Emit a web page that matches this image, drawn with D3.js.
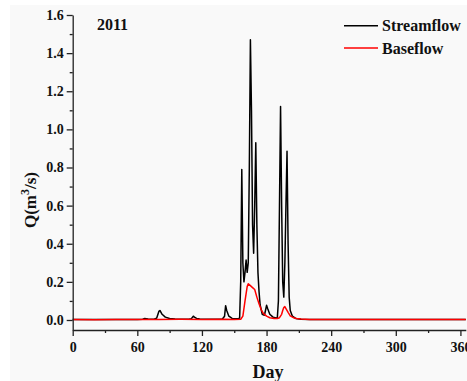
<!DOCTYPE html>
<html><head><meta charset="utf-8">
<script src="https://cdn.jsdelivr.net/npm/d3@7"></script>
<style>body{margin:0;background:#fff}svg{display:block}
text{font-family:'Liberation Serif','Times New Roman',serif !important;font-weight:bold}</style>
</head><body>
<script>
const chartTitle = "2011";
const xTicks = [0, 60, 120, 180, 240, 300, 360];
const yTicks = [0.0, 0.2, 0.4, 0.6, 0.8, 1.0, 1.2, 1.4, 1.6];
const streamDays = [0, 30, 60, 65, 67, 68, 70, 72, 76, 78, 80, 81, 83, 86, 90, 95, 108, 110, 112, 113, 115, 118, 125, 135, 139, 141, 142, 143, 145, 148, 153, 155, 156, 157, 158, 159, 160, 161, 162, 163, 164, 165, 166, 167, 168, 169, 170, 171, 172, 173, 174, 176, 178, 179, 180, 181, 183, 186, 189, 190, 191, 192, 193, 194, 195, 196, 197, 198, 199, 200, 201, 202, 204, 207, 212, 220, 240, 300, 365];
const streamVals = [0.002, 0.002, 0.003, 0.004, 0.008, 0.007, 0.005, 0.004, 0.005, 0.01, 0.045, 0.05, 0.03, 0.015, 0.008, 0.005, 0.004, 0.006, 0.02, 0.015, 0.008, 0.005, 0.004, 0.004, 0.005, 0.02, 0.075, 0.05, 0.02, 0.008, 0.006, 0.01, 0.2, 0.79, 0.3, 0.2, 0.25, 0.315, 0.25, 0.3, 0.8, 1.47, 1.1, 0.5, 0.35, 0.6, 0.93, 0.5, 0.25, 0.15, 0.08, 0.03, 0.025, 0.05, 0.077, 0.06, 0.03, 0.015, 0.01, 0.012, 0.1, 0.6, 1.12, 0.6, 0.2, 0.12, 0.3, 0.6, 0.885, 0.4, 0.12, 0.05, 0.02, 0.008, 0.004, 0.003, 0.002, 0.002, 0.002];
const baseDays = [0, 20, 40, 60, 80, 100, 120, 140, 150, 156, 158, 160, 162, 163, 165, 167, 169, 171, 173, 175, 177, 180, 183, 187, 190, 192, 194, 195, 196, 197, 198, 200, 202, 205, 208, 212, 220, 240, 300, 365];
const baseVals = [0.002, 0.001, 0.003, 0.002, 0.003, 0.004, 0.003, 0.004, 0.003, 0.004, 0.02, 0.1, 0.175, 0.19, 0.18, 0.17, 0.16, 0.12, 0.085, 0.055, 0.035, 0.02, 0.012, 0.008, 0.008, 0.012, 0.03, 0.05, 0.065, 0.07, 0.06, 0.04, 0.022, 0.012, 0.008, 0.005, 0.003, 0.002, 0.002, 0.002];
const seriesNames = ["Streamflow", "Baseflow"];
const seriesColors = ["#000000", "#ff0000"];

const W = 467, H = 381;
const svg = d3.select("body").append("svg").attr("width", W).attr("height", H);
svg.append("rect").attr("x", 10).attr("y", 5).attr("width", W - 10).attr("height", H - 5).attr("fill", "#f9f9f9");

const x = d3.scaleLinear().domain([0, 365]).range([72.7, 465.8]);
const y = d3.scaleLinear().domain([-0.0525, 1.6]).range([330, 15]);

const line = d3.line().x(d => x(d[0])).y(d => y(d[1]));
const stream = streamDays.map((d, i) => [d, streamVals[i]]);
const base = baseDays.map((d, i) => [d, baseVals[i]]);

svg.append("path").datum(stream).attr("d", line).attr("fill", "none")
  .attr("stroke", seriesColors[0]).attr("stroke-width", 1.5).attr("stroke-linejoin", "round");
svg.append("path").datum(base).attr("d", line).attr("fill", "none")
  .attr("stroke", seriesColors[1]).attr("stroke-width", 1.5).attr("stroke-linejoin", "round");

// axes
const axCol = "#222";
const xAxis = svg.append("g").attr("transform", "translate(0,330)")
  .call(d3.axisBottom(x).tickValues(xTicks).tickSize(6).tickSizeOuter(0).tickFormat(d3.format("d")));
const xMinor = svg.append("g").attr("transform", "translate(0,330)")
  .call(d3.axisBottom(x).tickValues([30, 90, 150, 210, 270, 330]).tickSize(3).tickSizeOuter(0).tickFormat(""));
xMinor.select(".domain").remove();
const yAxis = svg.append("g").attr("transform", "translate(72.7,0)")
  .call(d3.axisLeft(y).tickValues(yTicks).tickSize(6).tickSizeOuter(0).tickFormat(d3.format(".1f")));
const yMinor = svg.append("g").attr("transform", "translate(72.7,0)")
  .call(d3.axisLeft(y).tickValues([0.1, 0.3, 0.5, 0.7, 0.9, 1.1, 1.3, 1.5]).tickSize(3).tickSizeOuter(0).tickFormat(""));
yMinor.select(".domain").remove();
svg.selectAll(".domain, .tick line").attr("stroke", axCol).attr("stroke-width", 1.3);
svg.selectAll(".tick text").attr("font-size", 14).attr("fill", "#111");
xAxis.selectAll(".tick text").attr("dy", "0.95em");

// labels
svg.append("text").attr("x", 268).attr("y", 378).attr("text-anchor", "middle")
  .attr("font-size", 18).attr("fill", "#111").text("Day");
const yl = svg.append("text").attr("transform", "translate(36,200) rotate(-90)").attr("text-anchor", "middle")
  .attr("font-size", 17).attr("fill", "#111");
yl.append("tspan").text("Q(m");
yl.append("tspan").attr("font-size", 12).attr("dy", -7).text("3");
yl.append("tspan").attr("dy", 7).text("/s)");

svg.append("text").attr("x", 97).attr("y", 30).attr("font-size", 16).attr("fill", "#111").text(chartTitle);

// legend
seriesNames.forEach((n, i) => {
  const yy = 25.7 + i * 22.3;
  svg.append("line").attr("x1", 344).attr("x2", 378).attr("y1", yy).attr("y2", yy)
    .attr("stroke", seriesColors[i]).attr("stroke-width", 1.5);
  svg.append("text").attr("x", 382).attr("y", yy + 5.5).attr("font-size", 16).attr("fill", "#111").text(n);
});
</script>
</body></html>
